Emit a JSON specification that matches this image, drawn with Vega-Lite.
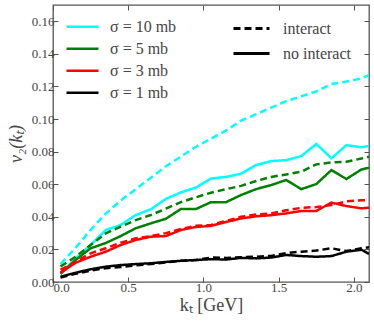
{
  "$schema": "https://vega.github.io/schema/vega-lite/v6.json",
  "width": 316,
  "height": 277,
  "autosize": {"type": "none"},
  "padding": {"left": 53, "top": 5, "right": 5, "bottom": 43},
  "background": "white",
  "config": {
    "view": {"stroke": "#555", "strokeWidth": 1.3},
    "font": "Liberation Serif",
    "axis": {
      "grid": false, "domain": false, "tickSize": -5, "tickColor": "#555", "tickWidth": 1,
      "labelFont": "Liberation Serif", "labelFontSize": 13, "labelColor": "#444",
      "titleFont": "Liberation Serif", "titleFontSize": 18, "titleFontWeight": "normal", "titleColor": "#444"
    },
    "legend": {
      "labelFont": "Liberation Serif", "labelFontSize": 16, "labelColor": "#444",
      "symbolType": "stroke", "symbolStrokeWidth": 2.5, "padding": 0, "title": null
    }
  },
  "data": {"values": [
    {"k":0.05,"v":0.011,"s":"σ = 10 mb","t":"interact"},
    {"k":0.15,"v":0.021,"s":"σ = 10 mb","t":"interact"},
    {"k":0.25,"v":0.032,"s":"σ = 10 mb","t":"interact"},
    {"k":0.35,"v":0.042,"s":"σ = 10 mb","t":"interact"},
    {"k":0.45,"v":0.050,"s":"σ = 10 mb","t":"interact"},
    {"k":0.55,"v":0.057,"s":"σ = 10 mb","t":"interact"},
    {"k":0.65,"v":0.064,"s":"σ = 10 mb","t":"interact"},
    {"k":0.75,"v":0.071,"s":"σ = 10 mb","t":"interact"},
    {"k":0.85,"v":0.077,"s":"σ = 10 mb","t":"interact"},
    {"k":0.95,"v":0.083,"s":"σ = 10 mb","t":"interact"},
    {"k":1.05,"v":0.088,"s":"σ = 10 mb","t":"interact"},
    {"k":1.15,"v":0.093,"s":"σ = 10 mb","t":"interact"},
    {"k":1.25,"v":0.099,"s":"σ = 10 mb","t":"interact"},
    {"k":1.35,"v":0.103,"s":"σ = 10 mb","t":"interact"},
    {"k":1.45,"v":0.107,"s":"σ = 10 mb","t":"interact"},
    {"k":1.55,"v":0.111,"s":"σ = 10 mb","t":"interact"},
    {"k":1.65,"v":0.114,"s":"σ = 10 mb","t":"interact"},
    {"k":1.75,"v":0.117,"s":"σ = 10 mb","t":"interact"},
    {"k":1.85,"v":0.1215,"s":"σ = 10 mb","t":"interact"},
    {"k":1.95,"v":0.123,"s":"σ = 10 mb","t":"interact"},
    {"k":2.05,"v":0.125,"s":"σ = 10 mb","t":"interact"},
    {"k":2.1,"v":0.127,"s":"σ = 10 mb","t":"interact"},

    {"k":0.05,"v":0.005,"s":"σ = 10 mb","t":"no interact"},
    {"k":0.15,"v":0.0145,"s":"σ = 10 mb","t":"no interact"},
    {"k":0.25,"v":0.0227,"s":"σ = 10 mb","t":"no interact"},
    {"k":0.35,"v":0.0319,"s":"σ = 10 mb","t":"no interact"},
    {"k":0.45,"v":0.035,"s":"σ = 10 mb","t":"no interact"},
    {"k":0.55,"v":0.0411,"s":"σ = 10 mb","t":"no interact"},
    {"k":0.65,"v":0.0446,"s":"σ = 10 mb","t":"no interact"},
    {"k":0.75,"v":0.051,"s":"σ = 10 mb","t":"no interact"},
    {"k":0.85,"v":0.055,"s":"σ = 10 mb","t":"no interact"},
    {"k":0.95,"v":0.058,"s":"σ = 10 mb","t":"no interact"},
    {"k":1.05,"v":0.0635,"s":"σ = 10 mb","t":"no interact"},
    {"k":1.15,"v":0.0645,"s":"σ = 10 mb","t":"no interact"},
    {"k":1.25,"v":0.0665,"s":"σ = 10 mb","t":"no interact"},
    {"k":1.35,"v":0.0718,"s":"σ = 10 mb","t":"no interact"},
    {"k":1.45,"v":0.0742,"s":"σ = 10 mb","t":"no interact"},
    {"k":1.55,"v":0.0748,"s":"σ = 10 mb","t":"no interact"},
    {"k":1.65,"v":0.0773,"s":"σ = 10 mb","t":"no interact"},
    {"k":1.75,"v":0.0847,"s":"σ = 10 mb","t":"no interact"},
    {"k":1.85,"v":0.0759,"s":"σ = 10 mb","t":"no interact"},
    {"k":1.95,"v":0.084,"s":"σ = 10 mb","t":"no interact"},
    {"k":2.05,"v":0.0827,"s":"σ = 10 mb","t":"no interact"},
    {"k":2.1,"v":0.0835,"s":"σ = 10 mb","t":"no interact"},

    {"k":0.05,"v":0.0095,"s":"σ = 5 mb","t":"interact"},
    {"k":0.15,"v":0.0155,"s":"σ = 5 mb","t":"interact"},
    {"k":0.25,"v":0.0227,"s":"σ = 5 mb","t":"interact"},
    {"k":0.35,"v":0.0298,"s":"σ = 5 mb","t":"interact"},
    {"k":0.45,"v":0.034,"s":"σ = 5 mb","t":"interact"},
    {"k":0.55,"v":0.038,"s":"σ = 5 mb","t":"interact"},
    {"k":0.65,"v":0.0411,"s":"σ = 5 mb","t":"interact"},
    {"k":0.75,"v":0.045,"s":"σ = 5 mb","t":"interact"},
    {"k":0.85,"v":0.049,"s":"σ = 5 mb","t":"interact"},
    {"k":0.95,"v":0.052,"s":"σ = 5 mb","t":"interact"},
    {"k":1.05,"v":0.0548,"s":"σ = 5 mb","t":"interact"},
    {"k":1.15,"v":0.057,"s":"σ = 5 mb","t":"interact"},
    {"k":1.25,"v":0.059,"s":"σ = 5 mb","t":"interact"},
    {"k":1.35,"v":0.062,"s":"σ = 5 mb","t":"interact"},
    {"k":1.45,"v":0.0645,"s":"σ = 5 mb","t":"interact"},
    {"k":1.55,"v":0.066,"s":"σ = 5 mb","t":"interact"},
    {"k":1.65,"v":0.0677,"s":"σ = 5 mb","t":"interact"},
    {"k":1.75,"v":0.0722,"s":"σ = 5 mb","t":"interact"},
    {"k":1.85,"v":0.0734,"s":"σ = 5 mb","t":"interact"},
    {"k":1.95,"v":0.0738,"s":"σ = 5 mb","t":"interact"},
    {"k":2.05,"v":0.0758,"s":"σ = 5 mb","t":"interact"},
    {"k":2.1,"v":0.0769,"s":"σ = 5 mb","t":"interact"},

    {"k":0.05,"v":0.005,"s":"σ = 5 mb","t":"no interact"},
    {"k":0.15,"v":0.0135,"s":"σ = 5 mb","t":"no interact"},
    {"k":0.25,"v":0.0207,"s":"σ = 5 mb","t":"no interact"},
    {"k":0.35,"v":0.0239,"s":"σ = 5 mb","t":"no interact"},
    {"k":0.45,"v":0.0282,"s":"σ = 5 mb","t":"no interact"},
    {"k":0.55,"v":0.033,"s":"σ = 5 mb","t":"no interact"},
    {"k":0.65,"v":0.036,"s":"σ = 5 mb","t":"no interact"},
    {"k":0.75,"v":0.0388,"s":"σ = 5 mb","t":"no interact"},
    {"k":0.85,"v":0.0448,"s":"σ = 5 mb","t":"no interact"},
    {"k":0.95,"v":0.0448,"s":"σ = 5 mb","t":"no interact"},
    {"k":1.05,"v":0.049,"s":"σ = 5 mb","t":"no interact"},
    {"k":1.15,"v":0.049,"s":"σ = 5 mb","t":"no interact"},
    {"k":1.25,"v":0.0534,"s":"σ = 5 mb","t":"no interact"},
    {"k":1.35,"v":0.057,"s":"σ = 5 mb","t":"no interact"},
    {"k":1.45,"v":0.0595,"s":"σ = 5 mb","t":"no interact"},
    {"k":1.55,"v":0.0626,"s":"σ = 5 mb","t":"no interact"},
    {"k":1.65,"v":0.057,"s":"σ = 5 mb","t":"no interact"},
    {"k":1.75,"v":0.0601,"s":"σ = 5 mb","t":"no interact"},
    {"k":1.85,"v":0.0687,"s":"σ = 5 mb","t":"no interact"},
    {"k":1.95,"v":0.0632,"s":"σ = 5 mb","t":"no interact"},
    {"k":2.05,"v":0.0691,"s":"σ = 5 mb","t":"no interact"},
    {"k":2.1,"v":0.0701,"s":"σ = 5 mb","t":"no interact"},

    {"k":0.05,"v":0.0074,"s":"σ = 3 mb","t":"interact"},
    {"k":0.15,"v":0.0125,"s":"σ = 3 mb","t":"interact"},
    {"k":0.25,"v":0.0176,"s":"σ = 3 mb","t":"interact"},
    {"k":0.35,"v":0.0207,"s":"σ = 3 mb","t":"interact"},
    {"k":0.45,"v":0.0241,"s":"σ = 3 mb","t":"interact"},
    {"k":0.55,"v":0.0268,"s":"σ = 3 mb","t":"interact"},
    {"k":0.65,"v":0.0282,"s":"σ = 3 mb","t":"interact"},
    {"k":0.75,"v":0.030,"s":"σ = 3 mb","t":"interact"},
    {"k":0.85,"v":0.0325,"s":"σ = 3 mb","t":"interact"},
    {"k":0.95,"v":0.0345,"s":"σ = 3 mb","t":"interact"},
    {"k":1.05,"v":0.035,"s":"σ = 3 mb","t":"interact"},
    {"k":1.15,"v":0.0375,"s":"σ = 3 mb","t":"interact"},
    {"k":1.25,"v":0.040,"s":"σ = 3 mb","t":"interact"},
    {"k":1.35,"v":0.0415,"s":"σ = 3 mb","t":"interact"},
    {"k":1.45,"v":0.042,"s":"σ = 3 mb","t":"interact"},
    {"k":1.55,"v":0.044,"s":"σ = 3 mb","t":"interact"},
    {"k":1.65,"v":0.0455,"s":"σ = 3 mb","t":"interact"},
    {"k":1.75,"v":0.046,"s":"σ = 3 mb","t":"interact"},
    {"k":1.85,"v":0.0472,"s":"σ = 3 mb","t":"interact"},
    {"k":1.95,"v":0.0495,"s":"σ = 3 mb","t":"interact"},
    {"k":2.05,"v":0.0502,"s":"σ = 3 mb","t":"interact"},
    {"k":2.1,"v":0.0503,"s":"σ = 3 mb","t":"interact"},

    {"k":0.05,"v":0.0057,"s":"σ = 3 mb","t":"no interact"},
    {"k":0.15,"v":0.0118,"s":"σ = 3 mb","t":"no interact"},
    {"k":0.25,"v":0.0155,"s":"σ = 3 mb","t":"no interact"},
    {"k":0.35,"v":0.0186,"s":"σ = 3 mb","t":"no interact"},
    {"k":0.45,"v":0.0227,"s":"σ = 3 mb","t":"no interact"},
    {"k":0.55,"v":0.0258,"s":"σ = 3 mb","t":"no interact"},
    {"k":0.65,"v":0.0278,"s":"σ = 3 mb","t":"no interact"},
    {"k":0.75,"v":0.0282,"s":"σ = 3 mb","t":"no interact"},
    {"k":0.85,"v":0.0319,"s":"σ = 3 mb","t":"no interact"},
    {"k":0.95,"v":0.0338,"s":"σ = 3 mb","t":"no interact"},
    {"k":1.05,"v":0.0344,"s":"σ = 3 mb","t":"no interact"},
    {"k":1.15,"v":0.0368,"s":"σ = 3 mb","t":"no interact"},
    {"k":1.25,"v":0.039,"s":"σ = 3 mb","t":"no interact"},
    {"k":1.35,"v":0.0403,"s":"σ = 3 mb","t":"no interact"},
    {"k":1.45,"v":0.041,"s":"σ = 3 mb","t":"no interact"},
    {"k":1.55,"v":0.0421,"s":"σ = 3 mb","t":"no interact"},
    {"k":1.65,"v":0.0436,"s":"σ = 3 mb","t":"no interact"},
    {"k":1.75,"v":0.0436,"s":"σ = 3 mb","t":"no interact"},
    {"k":1.85,"v":0.0487,"s":"σ = 3 mb","t":"no interact"},
    {"k":1.95,"v":0.0466,"s":"σ = 3 mb","t":"no interact"},
    {"k":2.05,"v":0.0452,"s":"σ = 3 mb","t":"no interact"},
    {"k":2.1,"v":0.0456,"s":"σ = 3 mb","t":"no interact"},

    {"k":0.05,"v":0.0028,"s":"σ = 1 mb","t":"interact"},
    {"k":0.15,"v":0.005,"s":"σ = 1 mb","t":"interact"},
    {"k":0.25,"v":0.007,"s":"σ = 1 mb","t":"interact"},
    {"k":0.35,"v":0.0085,"s":"σ = 1 mb","t":"interact"},
    {"k":0.45,"v":0.0092,"s":"σ = 1 mb","t":"interact"},
    {"k":0.55,"v":0.0102,"s":"σ = 1 mb","t":"interact"},
    {"k":0.65,"v":0.011,"s":"σ = 1 mb","t":"interact"},
    {"k":0.75,"v":0.012,"s":"σ = 1 mb","t":"interact"},
    {"k":0.85,"v":0.013,"s":"σ = 1 mb","t":"interact"},
    {"k":0.95,"v":0.0135,"s":"σ = 1 mb","t":"interact"},
    {"k":1.05,"v":0.015,"s":"σ = 1 mb","t":"interact"},
    {"k":1.15,"v":0.0148,"s":"σ = 1 mb","t":"interact"},
    {"k":1.25,"v":0.0152,"s":"σ = 1 mb","t":"interact"},
    {"k":1.35,"v":0.0155,"s":"σ = 1 mb","t":"interact"},
    {"k":1.45,"v":0.016,"s":"σ = 1 mb","t":"interact"},
    {"k":1.55,"v":0.0178,"s":"σ = 1 mb","t":"interact"},
    {"k":1.65,"v":0.0186,"s":"σ = 1 mb","t":"interact"},
    {"k":1.75,"v":0.0193,"s":"σ = 1 mb","t":"interact"},
    {"k":1.85,"v":0.0207,"s":"σ = 1 mb","t":"interact"},
    {"k":1.95,"v":0.019,"s":"σ = 1 mb","t":"interact"},
    {"k":2.05,"v":0.0207,"s":"σ = 1 mb","t":"interact"},
    {"k":2.1,"v":0.0213,"s":"σ = 1 mb","t":"interact"},

    {"k":0.05,"v":0.0033,"s":"σ = 1 mb","t":"no interact"},
    {"k":0.15,"v":0.0057,"s":"σ = 1 mb","t":"no interact"},
    {"k":0.25,"v":0.0078,"s":"σ = 1 mb","t":"no interact"},
    {"k":0.35,"v":0.0094,"s":"σ = 1 mb","t":"no interact"},
    {"k":0.45,"v":0.0104,"s":"σ = 1 mb","t":"no interact"},
    {"k":0.55,"v":0.011,"s":"σ = 1 mb","t":"no interact"},
    {"k":0.65,"v":0.0115,"s":"σ = 1 mb","t":"no interact"},
    {"k":0.75,"v":0.0123,"s":"σ = 1 mb","t":"no interact"},
    {"k":0.85,"v":0.013,"s":"σ = 1 mb","t":"no interact"},
    {"k":0.95,"v":0.0135,"s":"σ = 1 mb","t":"no interact"},
    {"k":1.05,"v":0.014,"s":"σ = 1 mb","t":"no interact"},
    {"k":1.15,"v":0.0138,"s":"σ = 1 mb","t":"no interact"},
    {"k":1.25,"v":0.0148,"s":"σ = 1 mb","t":"no interact"},
    {"k":1.35,"v":0.0145,"s":"σ = 1 mb","t":"no interact"},
    {"k":1.45,"v":0.015,"s":"σ = 1 mb","t":"no interact"},
    {"k":1.55,"v":0.0166,"s":"σ = 1 mb","t":"no interact"},
    {"k":1.65,"v":0.0159,"s":"σ = 1 mb","t":"no interact"},
    {"k":1.75,"v":0.0155,"s":"σ = 1 mb","t":"no interact"},
    {"k":1.85,"v":0.0159,"s":"σ = 1 mb","t":"no interact"},
    {"k":1.95,"v":0.0186,"s":"σ = 1 mb","t":"no interact"},
    {"k":2.05,"v":0.0198,"s":"σ = 1 mb","t":"no interact"},
    {"k":2.1,"v":0.0172,"s":"σ = 1 mb","t":"no interact"}
  ]},
  "layer": [
    {
      "mark": {"type": "line", "strokeWidth": 2.5, "clip": true},
      "encoding": {
        "x": {"field": "k", "type": "quantitative",
              "scale": {"domain": [0, 2.1], "nice": false, "zero": false},
              "axis": {"values": [0, 0.5, 1, 1.5, 2], "format": ".1f", "labelPadding": 4, "title": "kₜ [GeV]", "titlePadding": 2}},
        "y": {"field": "v", "type": "quantitative",
              "scale": {"domain": [0, 0.17], "nice": false},
              "axis": {"values": [0, 0.02, 0.04, 0.06, 0.08, 0.1, 0.12, 0.14, 0.16], "format": ".2f", "labelPadding": 4, "title": "v₂(kₜ)", "titleFontStyle": "italic", "titlePadding": 6}},
        "color": {"field": "s", "type": "nominal",
                  "scale": {"domain": ["σ = 10 mb", "σ = 5 mb", "σ = 3 mb", "σ = 1 mb"], "range": ["#00ffff", "#008000", "#ff0000", "#000000"]},
                  "legend": {"orient": "none", "legendX": 12, "legendY": 11, "symbolSize": 1024, "clipHeight": 21.3, "labelOffset": 10, "rowPadding": 0, "symbolStrokeWidth": 2.5}},
        "strokeDash": {"field": "t", "type": "nominal",
                  "scale": {"domain": ["interact", "no interact"], "range": [[7, 4], [1, 0]]},
                  "legend": {"orient": "none", "legendX": 179, "legendY": 11, "symbolSize": 1296, "clipHeight": 25, "labelOffset": 12, "rowPadding": 0, "symbolStrokeColor": "black", "symbolStrokeWidth": 3}}
      }
    },
    {
      "mark": {"type": "line", "opacity": 0},
      "encoding": {
        "x": {"field": "k", "type": "quantitative",
              "axis": {"orient": "top", "values": [0, 0.5, 1, 1.5, 2], "labels": false, "title": null}},
        "y": {"field": "v", "type": "quantitative",
              "axis": {"orient": "right", "values": [0, 0.02, 0.04, 0.06, 0.08, 0.1, 0.12, 0.14, 0.16], "labels": false, "title": null}},
        "detail": {"field": "s"}
      }
    }
  ],
  "resolve": {"axis": {"x": "independent", "y": "independent"}}
}
